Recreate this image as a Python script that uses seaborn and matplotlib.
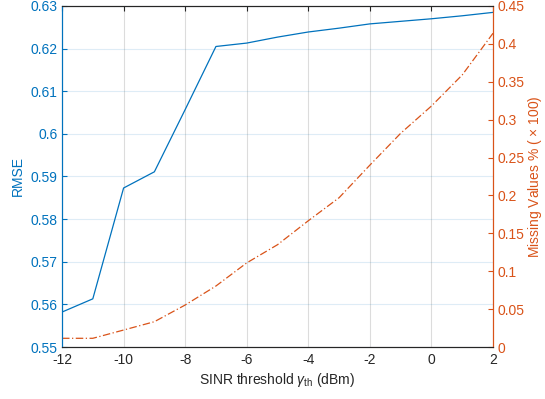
import numpy as np
import pandas as pd
import matplotlib
matplotlib.use('Agg')
import matplotlib.pyplot as plt
import seaborn as sns

# ==========================================
# DATA
# ==========================================
sinr_threshold = [-12, -11, -10, -9, -8, -7, -6, -5, -4, -3, -2, -1, 0, 1, 2]
rmse = [0.5582, 0.5613, 0.5873, 0.5911, 0.6057, 0.6205, 0.6213, 0.6227, 0.6239,
        0.6248, 0.6258, 0.6264, 0.6270, 0.6277, 0.6285]
missing_values = [0.0115, 0.0115, 0.0224, 0.0334, 0.0554, 0.0805, 0.111, 0.135, 0.1666,
                  0.197, 0.240, 0.282, 0.318, 0.359, 0.414]

x_ticks = [-12, -10, -8, -6, -4, -2, 0, 2]
left_ticks = [0.55, 0.56, 0.57, 0.58, 0.59, 0.60, 0.61, 0.62, 0.63]
left_labels = ['0.55', '0.56', '0.57', '0.58', '0.59', '0.6', '0.61', '0.62', '0.63']
right_ticks = [0, 0.05, 0.1, 0.15, 0.2, 0.25, 0.3, 0.35, 0.4, 0.45]
right_labels = ['0', '0.05', '0.1', '0.15', '0.2', '0.25', '0.3', '0.35', '0.4', '0.45']

# ==========================================
# STYLE
# ==========================================
sns.set_style("white")
plt.rcParams['font.family'] = ['Liberation Sans', 'DejaVu Sans']
plt.rcParams['mathtext.fontset'] = 'custom'
plt.rcParams['mathtext.it'] = 'Liberation Sans:italic'
plt.rcParams['mathtext.rm'] = 'Liberation Sans'

BLUE = '#0072BD'
ORANGE = '#D95319'
AX_GRAY = '#262626'
FS = 10

df = pd.DataFrame({'sinr': sinr_threshold, 'rmse': rmse, 'missing': missing_values})

fig = plt.figure(figsize=(5.45, 3.99), dpi=100)
ax = fig.add_axes([0.1138, 0.1303, 0.7908, 0.8547])
ax2 = ax.twinx()

sns.lineplot(data=df, x='sinr', y='rmse', ax=ax, color=BLUE, linewidth=0.9)
sns.lineplot(data=df, x='sinr', y='missing', ax=ax2, color=ORANGE, linewidth=0.9,
             linestyle=(0, (6, 2, 1, 2)))

ax.set_xlim(-12, 2)
ax.set_ylim(0.55, 0.63)
ax2.set_ylim(0, 0.45)

ax.set_xticks(x_ticks)
ax.set_xticklabels([str(t) for t in x_ticks])
ax.set_yticks(left_ticks)
ax.set_yticklabels(left_labels)
ax2.set_yticks(right_ticks)
ax2.set_yticklabels(right_labels)

# grid: vertical gray, horizontal bluish (follows the left axis)
ax.grid(True, axis='x', color='#dcdcdc', linewidth=0.8)
ax.grid(True, axis='y', color=BLUE, alpha=0.13, linewidth=0.8)
ax.set_axisbelow(True)

ax.tick_params(axis='x', direction='in', length=3.5, width=0.8, colors=AX_GRAY,
               labelsize=FS, top=True, pad=4)
ax.tick_params(axis='y', direction='in', length=3.5, width=0.8, colors=BLUE,
               labelsize=FS, pad=3)
ax2.tick_params(axis='y', direction='in', length=3.5, width=0.8, colors=ORANGE,
                labelsize=FS, pad=3)
for a in (ax, ax2):
    a.spines['top'].set_color(AX_GRAY)
    a.spines['bottom'].set_color(AX_GRAY)
    a.spines['left'].set_color(BLUE)
    a.spines['right'].set_color(ORANGE)
    for s in a.spines.values():
        s.set_linewidth(0.8)

ax.set_xlabel(r'SINR threshold $\gamma_{\mathrm{th}}$ (dBm)', fontsize=FS, color=AX_GRAY, labelpad=3)
ax.set_ylabel('RMSE', fontsize=FS, color=BLUE, labelpad=4)
ax2.set_ylabel(r'Missing Values % ( $\times$ 100)', fontsize=FS, color=ORANGE, labelpad=1)

plt.savefig('out.png', dpi=100)
